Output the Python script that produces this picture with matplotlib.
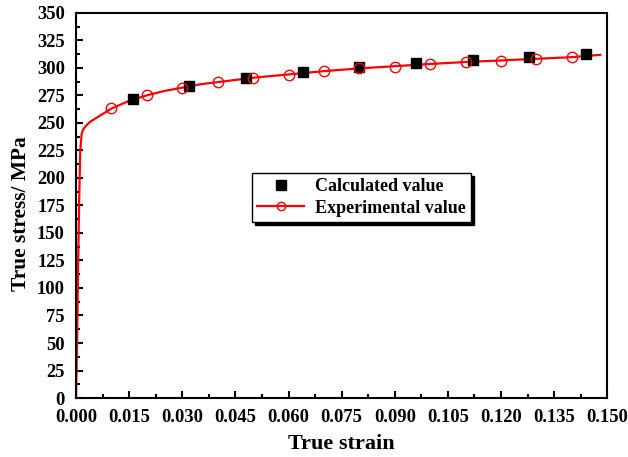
import matplotlib
matplotlib.use('Agg')
import matplotlib.pyplot as plt
from matplotlib.ticker import MultipleLocator, FormatStrFormatter

plt.rcParams['font.family'] = 'Liberation Serif'
plt.rcParams['font.weight'] = 'bold'

# # Data

# experimental curve (elastic part + plastic flow)
curve_strain = [0.0, 0.0003, 0.0006, 0.0009, 0.0012, 0.0016, 0.002, 0.003, 0.004, 0.0055,
                0.007, 0.0085, 0.01, 0.015, 0.02, 0.025, 0.03, 0.035, 0.04, 0.045, 0.05,
                0.06, 0.07, 0.08, 0.09, 0.10, 0.11, 0.12, 0.13, 0.14, 0.148]
curve_stress = [0, 50, 120, 180, 225, 240, 244, 248, 251, 254,
                257, 260, 263, 270, 275, 279, 282, 285, 287, 289, 291,
                294, 297, 299.5, 301.5, 303.5, 305.3, 306.7, 308.2, 309.7, 311.8]

# experimental markers
exp_strain = [0.01, 0.02, 0.03, 0.04, 0.05, 0.06, 0.07, 0.08, 0.09, 0.10, 0.11, 0.12, 0.13, 0.14]
exp_stress = [263.4, 275, 281.5, 287, 291.2, 293.6, 297.3, 299.5, 301.2, 303.4, 305.2, 306.4, 308, 309.4]

# calculated values
calc_strain = [0.016, 0.032, 0.048, 0.064, 0.080, 0.096, 0.112, 0.128, 0.144]
calc_stress = [271.5, 283.9, 290.6, 296.1, 300.6, 304.3, 307.3, 309.7, 312.4]

# # Plot

fig = plt.figure(figsize=(6.28, 4.57), dpi=100)
ax = fig.add_axes([0.121, 0.129, 0.846, 0.843])

ax.plot(calc_strain, calc_stress, 's', color='black', markersize=7, linestyle='none',
        label='Calculated value', zorder=3)
ax.plot(curve_strain, curve_stress, '-', color='red', linewidth=1.6, zorder=2)
ax.plot(exp_strain, exp_stress, 'o', color='red', markerfacecolor='none', markersize=7.5,
        markeredgewidth=1.0, zorder=4)
# legend proxy for experimental
ax.plot([], [], '-o', color='red', markerfacecolor='none', markersize=6, linewidth=1.6,
        label='Experimental value')

ax.set_xlim(0, 0.150)
ax.set_ylim(0, 350)
ax.xaxis.set_major_locator(MultipleLocator(0.015))
ax.xaxis.set_minor_locator(MultipleLocator(0.0075))
ax.yaxis.set_major_locator(MultipleLocator(25))
ax.yaxis.set_minor_locator(MultipleLocator(12.5))
ax.xaxis.set_major_formatter(FormatStrFormatter('%.3f'))

ax.tick_params(which='both', direction='in', top=False, right=False, labelsize=13.3, width=1.5)
ax.tick_params(which='major', length=5, pad=8)
ax.tick_params(which='minor', length=3)
for s in ax.spines.values():
    s.set_linewidth(1.5)

ax.set_xlabel('True strain', fontsize=16, fontweight='bold')
ax.set_ylabel('True stress/ MPa', fontsize=15.4, fontweight='bold')
ax.xaxis.set_label_coords(0.5, -0.094)
ax.yaxis.set_label_coords(-0.085, 0.478)

leg = ax.legend(loc='upper left', bbox_to_anchor=(0.401, 0.622), bbox_transform=fig.transFigure,
                borderaxespad=0, fancybox=False, edgecolor='black', framealpha=1,
                shadow={'color': 'black', 'alpha': 1}, prop={'size': 13, 'weight': 'bold'},
                handlelength=2.6, borderpad=0.3, labelspacing=0.25, handletextpad=0.6)
leg.get_frame().set_linewidth(1.0)

fig.savefig('out.png', dpi=100)
